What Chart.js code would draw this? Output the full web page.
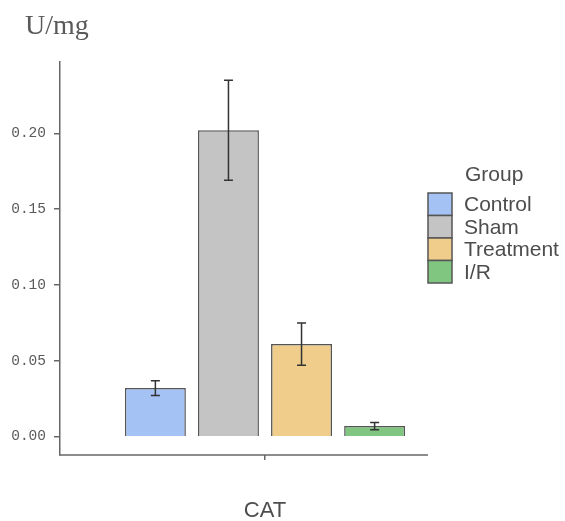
<!DOCTYPE html>
<html>
<head>
<meta charset="utf-8">
<script src="https://cdn.jsdelivr.net/npm/chart.js@4.4.1/dist/chart.umd.min.js"></script>
<style>
  html, body { margin: 0; padding: 0; background: #fff; }
  #chart { display: block; }
</style>
</head>
<body>
<canvas id="chart" width="565" height="521"></canvas>
<script>
// values
const categories = ['CAT'];
const groups = ['Control', 'Sham', 'Treatment', 'I/R'];
const means = [0.032, 0.202, 0.061, 0.007];
const errors = [0.0048, 0.033, 0.014, 0.0024];
const colors = ['#a4c2f4', '#c4c4c4', '#f0cd8b', '#80c680'];

const yMin = -0.0121;
const yMax = 0.247;
const yStep = 0.05;

const axisColor = '#666';
const xAxisEnd = 428;

// error bars, drawn from the bar elements and the y scale
const errorBars = {
  id: 'errorBars',
  afterDatasetsDraw(chart) {
    const ctx = chart.ctx;
    const y = chart.scales.y;
    ctx.save();
    ctx.strokeStyle = '#333';
    ctx.lineWidth = 1.5;
    chart.data.datasets.forEach((ds, i) => {
      const bar = chart.getDatasetMeta(i).data[0];
      const top = y.getPixelForValue(means[i] + errors[i]);
      const bot = y.getPixelForValue(means[i] - errors[i]);
      ctx.beginPath();
      ctx.moveTo(bar.x, top); ctx.lineTo(bar.x, bot);
      ctx.moveTo(bar.x - 4.5, top); ctx.lineTo(bar.x + 4.5, top);
      ctx.moveTo(bar.x - 4.5, bot); ctx.lineTo(bar.x + 4.5, bot);
      ctx.stroke();
    });
    ctx.restore();
  }
};

// title, x axis line and the legend on the right
const decorations = {
  id: 'decorations',
  afterDraw(chart) {
    const ctx = chart.ctx;
    const area = chart.chartArea;
    ctx.save();

    ctx.fillStyle = '#5a5a5a';
    ctx.font = '28px "Liberation Serif"';
    ctx.textBaseline = 'alphabetic';
    ctx.fillText('U/mg', 25, 34);

    ctx.strokeStyle = axisColor;
    ctx.lineWidth = 1.5;
    ctx.beginPath();
    ctx.moveTo(area.left - 0.75, area.bottom);
    ctx.lineTo(xAxisEnd, area.bottom);
    ctx.stroke();

    ctx.fillStyle = '#4d4d4d';
    ctx.font = '21px "Liberation Sans"';
    ctx.fillText('Group', 465, 181);

    const boxX = 428, boxW = 24, rowH = 22.5, top0 = 193;
    ctx.textBaseline = 'middle';
    chart.data.datasets.forEach((ds, i) => {
      const yy = top0 + i * rowH;
      ctx.fillStyle = ds.backgroundColor;
      ctx.fillRect(boxX, yy, boxW, rowH);
      ctx.strokeStyle = '#555';
      ctx.lineWidth = 1.5;
      ctx.strokeRect(boxX, yy, boxW, rowH);
      ctx.fillStyle = '#4d4d4d';
      ctx.fillText(ds.label, 464, yy + rowH / 2 + 1);
    });
    ctx.restore();
  }
};

new Chart(document.getElementById('chart'), {
  type: 'bar',
  data: {
    labels: categories,
    datasets: groups.map((g, i) => ({
      label: g,
      data: [means[i]],
      backgroundColor: colors[i],
      borderColor: '#555',
      borderWidth: 1.5,
      categoryPercentage: 0.713,
      barPercentage: 0.834
    }))
  },
  options: {
    responsive: false,
    animation: false,
    devicePixelRatio: 1,
    layout: { padding: { top: 62, left: 10, right: 95, bottom: 0 } },
    plugins: {
      legend: { display: false },
      tooltip: { enabled: false },
      title: { display: false }
    },
    scales: {
      x: {
        afterFit(scale) { scale.height = 66; },
        grid: { offset: false, drawOnChartArea: false, tickLength: 5, color: axisColor, lineWidth: 1.5 },
        border: { display: false },
        ticks: { color: '#4d4d4d', padding: 38, font: { family: 'Liberation Sans', size: 22 } }
      },
      y: {
        min: yMin,
        max: yMax,
        afterFit(scale) { scale.width = 50; },
        grid: { drawOnChartArea: false, tickLength: 6, color: axisColor, lineWidth: 1.5 },
        border: { display: true, color: axisColor, width: 1.5 },
        ticks: {
          stepSize: yStep,
          includeBounds: false,
          padding: 8,
          color: '#5a5a5a',
          font: { family: 'Liberation Mono', size: 14.5 },
          callback: v => v.toFixed(2)
        }
      }
    }
  },
  plugins: [errorBars, decorations]
});
</script>
</body>
</html>
